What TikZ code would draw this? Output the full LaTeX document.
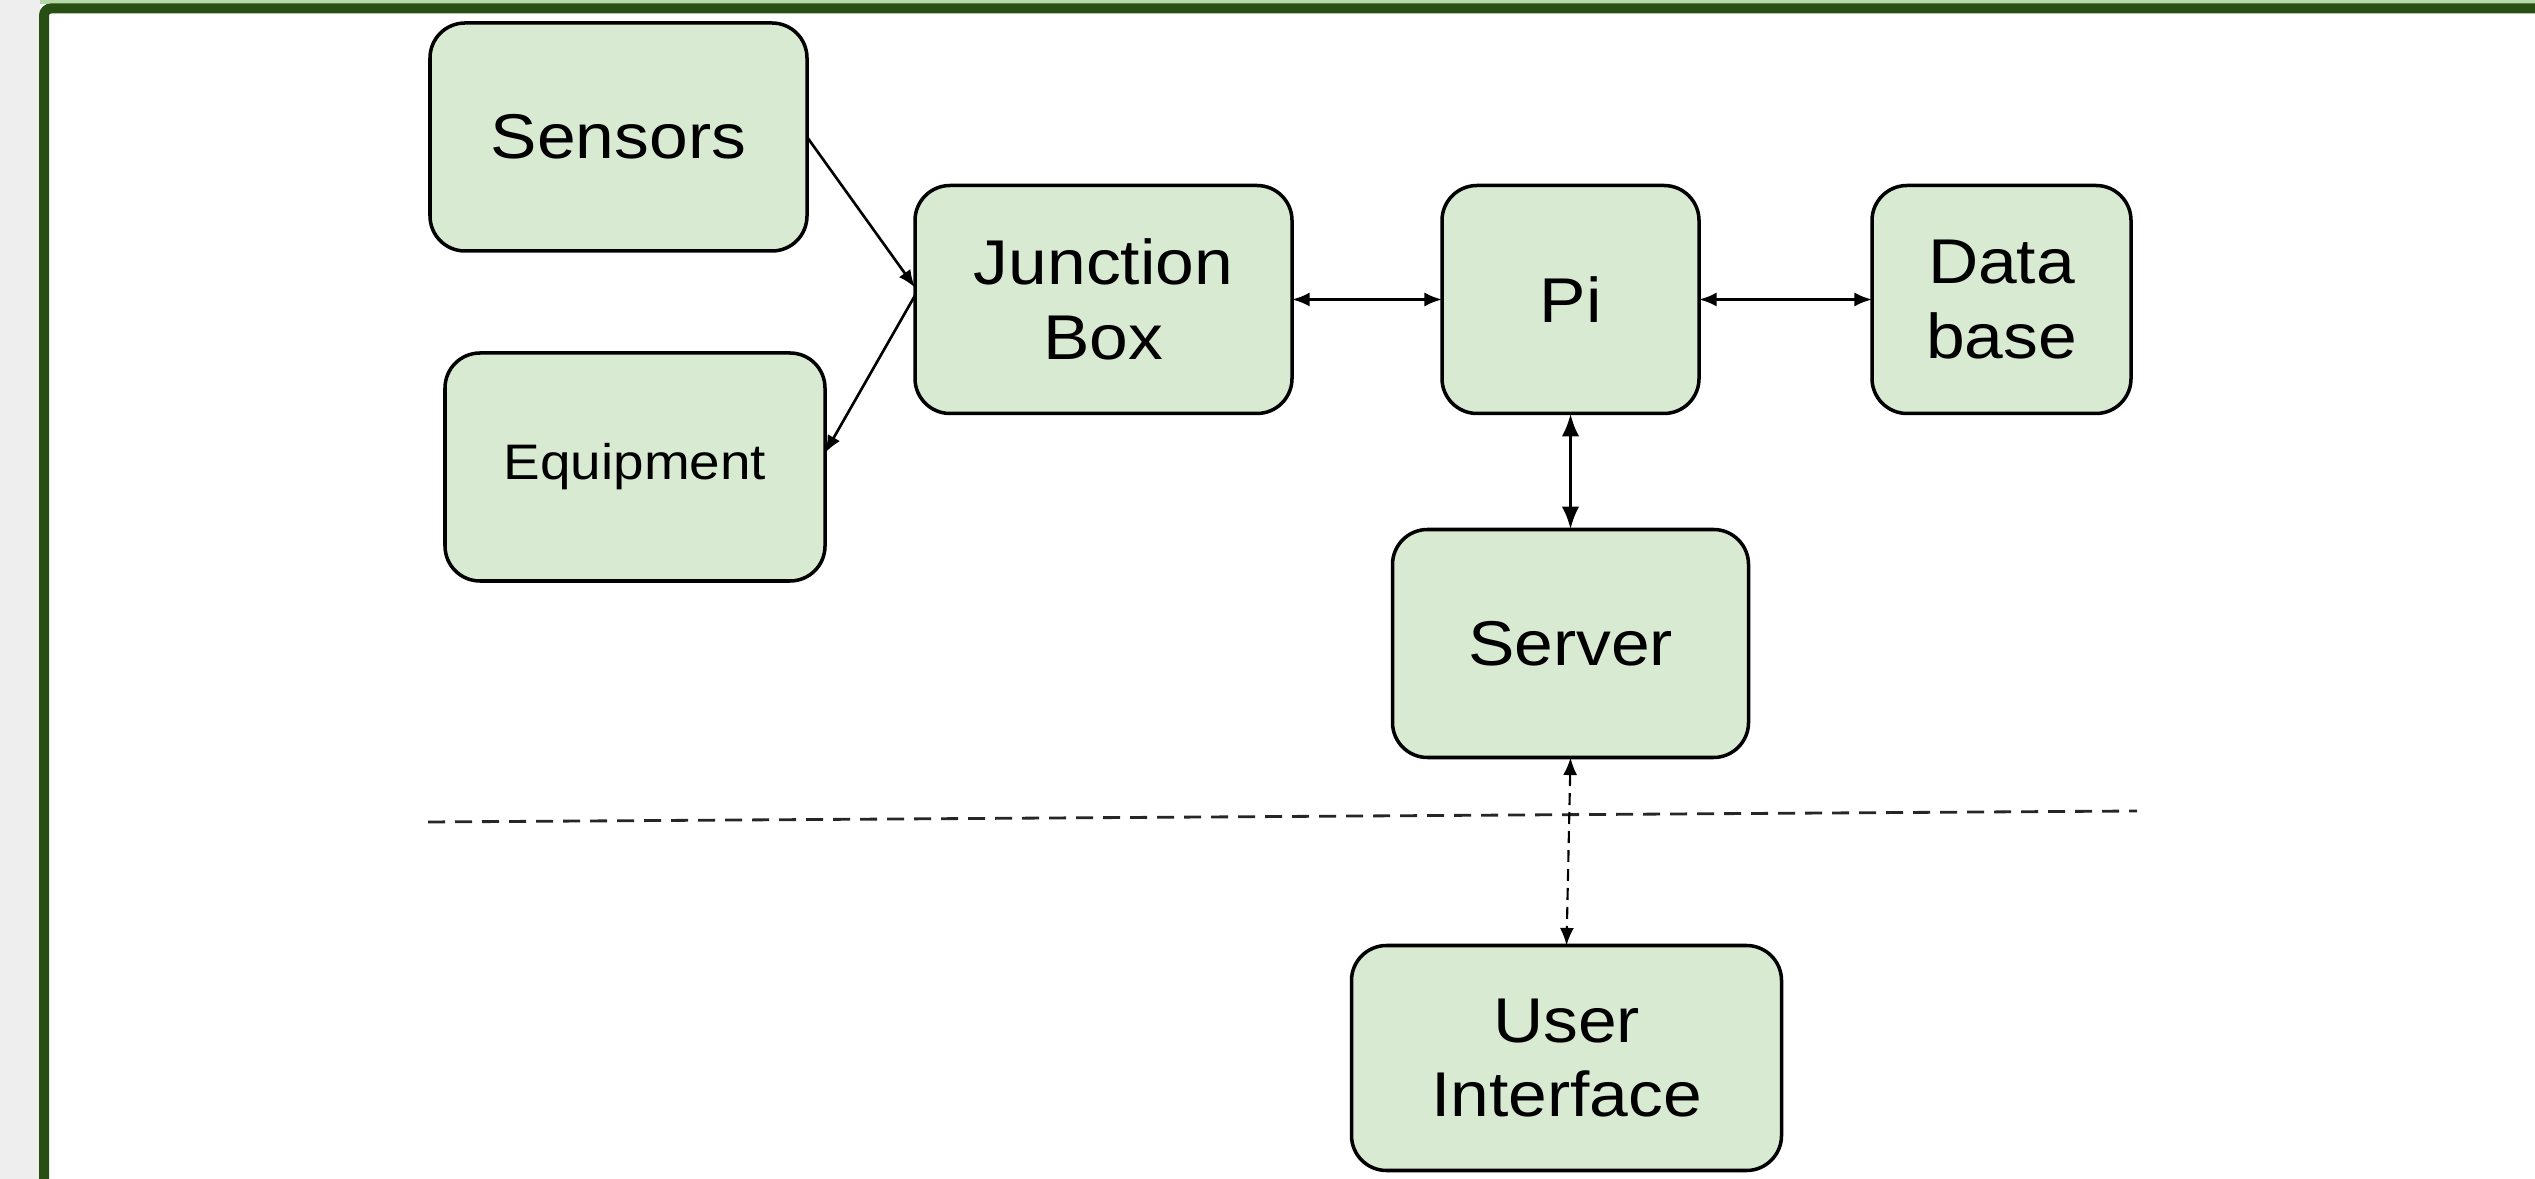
\documentclass[tikz,border=0pt]{standalone}
\usepackage{fontspec}
\setmainfont{Liberation Sans}[FakeStretch=1.1]
\usepackage{tikz}
\usetikzlibrary{arrows.meta,positioning}

\definecolor{framegreen}{HTML}{274E13}
\definecolor{barlight}{HTML}{B6D7A8}
\definecolor{boxfill}{HTML}{D9EAD3}
\definecolor{panelgrey}{HTML}{EEEEEE}

\begin{document}
\begin{tikzpicture}[
    every node/.style={font=\fontsize{18}{21.3}\selectfont},
    block/.style={rectangle, draw=black, fill=boxfill, line width=1pt,
        rounded corners=0.35cm, align=center, inner sep=0pt, outer sep=0pt,
        minimum height=2.28cm},
    link/.style={{Latex[length=5pt,width=4pt]}-{Latex[length=5pt,width=4pt]}, line width=0.75pt},
    feed/.style={-{Latex[length=5pt,width=4pt]}, line width=0.75pt},
    dashlink/.style={link, line width=0.6pt, dash pattern=on 0.12cm off 0.07cm},
]
\useasboundingbox (0,0) rectangle (25.35,-11.79);

% ===== Frame =====
\fill[panelgrey] (0,0) rectangle (0.40,-11.79);
\fill[barlight] (0.40,0) rectangle (25.35,-0.04);
\draw[framegreen, line width=0.1cm, rounded corners=2pt]
    (0.44,-12.2) -- (0.44,-0.085) -- (25.7,-0.085);

% ===== Inputs =====
\node[block, minimum width=3.77cm] (sensors) at (6.185,-1.37) {Sensors};
\node[block, minimum width=3.80cm, font=\fontsize{14.2}{17}\selectfont,
    below=1.02cm of sensors, xshift=0.165cm] (equip) {Equipment};

% ===== Main row =====
\node[block, minimum width=3.77cm, right=1.08cm of sensors, yshift=-1.625cm] (jbox) {Junction\\Box};
\node[block, minimum width=2.57cm, right=1.50cm of jbox] (pi) {Pi};
\node[block, minimum width=2.59cm, right=1.73cm of pi] (dbase) {Data\\base};

% ===== Server side =====
\node[block, minimum width=3.56cm, below=1.16cm of pi] (server) {Server};
\node[block, minimum width=4.30cm, minimum height=2.25cm,
    below=1.88cm of server, xshift=-0.04cm] (ui) {User\\Interface};

% Divider
\draw[black!85, line width=0.8pt, dash pattern=on 0.17cm off 0.10cm]
    (4.28,-8.22) -- (21.37,-8.11);

% ===== Connectors =====
\draw[feed] (sensors.east) -- ([yshift=0.12cm]jbox.west);
\draw[feed] ([yshift=0.04cm]jbox.west) -- ([yshift=0.14cm]equip.east);
\draw[link] (jbox.east) -- (pi.west);
\draw[link] (pi.east) -- (dbase.west);
\draw[{Latex[length=6.5pt,width=5pt]}-{Latex[length=6.5pt,width=5pt]}, line width=1.1pt]
    (pi.south) -- (server.south |- server.north);
\draw[dashlink] (server.south) -- (ui.north);

\end{tikzpicture}
\end{document}
